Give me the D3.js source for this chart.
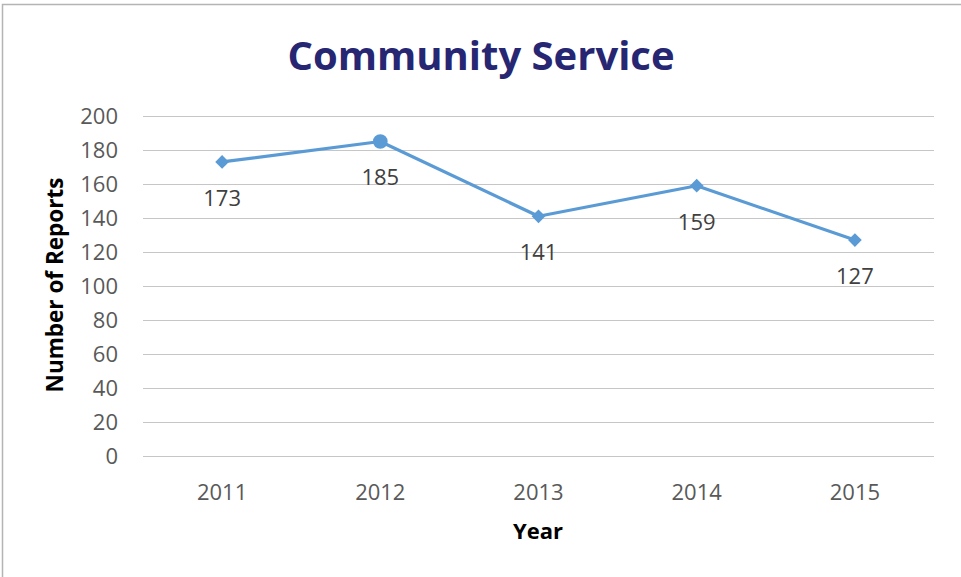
<!DOCTYPE html>
<html>
<head>
<meta charset="utf-8">
<script src="https://cdn.jsdelivr.net/npm/d3@7"></script>
<style>
  html, body { margin: 0; padding: 0; background: #fff; }
  svg { display: block; }
</style>
</head>
<body>
<svg id="chart" width="961" height="577"></svg>
<script>
// Yearly count of community service reports
const years = ["2011", "2012", "2013", "2014", "2015"];
const reports = [173, 185, 141, 159, 127];
const yTicks = [0, 20, 40, 60, 80, 100, 120, 140, 160, 180, 200];
// Marker shape per point (the 2012 point is drawn as a circle)
const markers = ["diamond", "circle", "diamond", "diamond", "diamond"];

const svg = d3.select("#chart");
const font = "'Open Sans', 'Noto Sans', sans-serif";

// outer chart frame
svg.append("rect")
  .attr("x", 2.5).attr("y", 4.5)
  .attr("width", 1000).attr("height", 1000)
  .attr("fill", "#fff")
  .attr("stroke", "#b4b4b4").attr("stroke-width", 1.5);

const plot = { left: 143, right: 934, top: 116, bottom: 456 };

const x = d3.scaleBand().domain(years).range([plot.left, plot.right]);
const y = d3.scaleLinear().domain([0, 200]).range([plot.bottom, plot.top]);

// horizontal gridlines
svg.append("g").selectAll("line").data(yTicks).join("line")
  .attr("x1", plot.left).attr("x2", plot.right)
  .attr("y1", d => Math.round(y(d)) + 0.5).attr("y2", d => Math.round(y(d)) + 0.5)
  .attr("stroke", "#c6c6c6").attr("stroke-width", 1.2);

// y tick labels
svg.append("g").selectAll("text").data(yTicks).join("text")
  .attr("x", 118).attr("y", d => y(d))
  .attr("dy", "0.36em")
  .attr("text-anchor", "end")
  .attr("font-family", font).attr("font-size", 22)
  .attr("fill", "#595959")
  .text(d => d);

// x tick labels
svg.append("g").selectAll("text").data(years).join("text")
  .attr("x", d => x(d) + x.bandwidth() / 2).attr("y", 492)
  .attr("dy", "0.36em")
  .attr("text-anchor", "middle")
  .attr("font-family", font).attr("font-size", 22)
  .attr("fill", "#595959")
  .text(d => d);

// series line
const pts = years.map((yr, i) => ({ yr, v: reports[i], m: markers[i] }));
svg.append("path")
  .datum(pts)
  .attr("fill", "none")
  .attr("stroke", "#5b9bd5").attr("stroke-width", 3.2)
  .attr("stroke-linejoin", "round")
  .attr("d", d3.line().x(d => x(d.yr) + x.bandwidth() / 2).y(d => y(d.v)));

// markers
const diamond = d3.symbol().type(d3.symbolDiamond2).size(120);
const circle = d3.symbol().type(d3.symbolCircle).size(170);
svg.append("g").selectAll("path").data(pts).join("path")
  .attr("transform", d => `translate(${x(d.yr) + x.bandwidth() / 2},${y(d.v)})`)
  .attr("d", d => d.m === "circle" ? circle() : diamond())
  .attr("fill", "#5b9bd5");

// data labels under each point
svg.append("g").selectAll("text").data(pts).join("text")
  .attr("x", d => x(d.yr) + x.bandwidth() / 2)
  .attr("y", d => y(d.v) + 36)
  .attr("dy", "0.36em")
  .attr("text-anchor", "middle")
  .attr("font-family", font).attr("font-size", 22)
  .attr("fill", "#404040")
  .text(d => d.v);

// title
svg.append("text")
  .attr("x", 481).attr("y", 56)
  .attr("dy", "0.36em")
  .attr("text-anchor", "middle")
  .attr("font-family", font).attr("font-size", 40).attr("font-weight", "bold")
  .attr("fill", "#262672")
  .text("Community Service");

// axis titles
svg.append("text")
  .attr("transform", "translate(55,285) rotate(-90)")
  .attr("dy", "0.36em")
  .attr("text-anchor", "middle")
  .attr("font-family", font).attr("font-size", 22.5).attr("font-weight", "bold")
  .attr("fill", "#000")
  .text("Number of Reports");

svg.append("text")
  .attr("x", 538).attr("y", 531)
  .attr("dy", "0.36em")
  .attr("text-anchor", "middle")
  .attr("font-family", font).attr("font-size", 22).attr("font-weight", "bold")
  .attr("fill", "#000")
  .text("Year");
</script>
</body>
</html>
